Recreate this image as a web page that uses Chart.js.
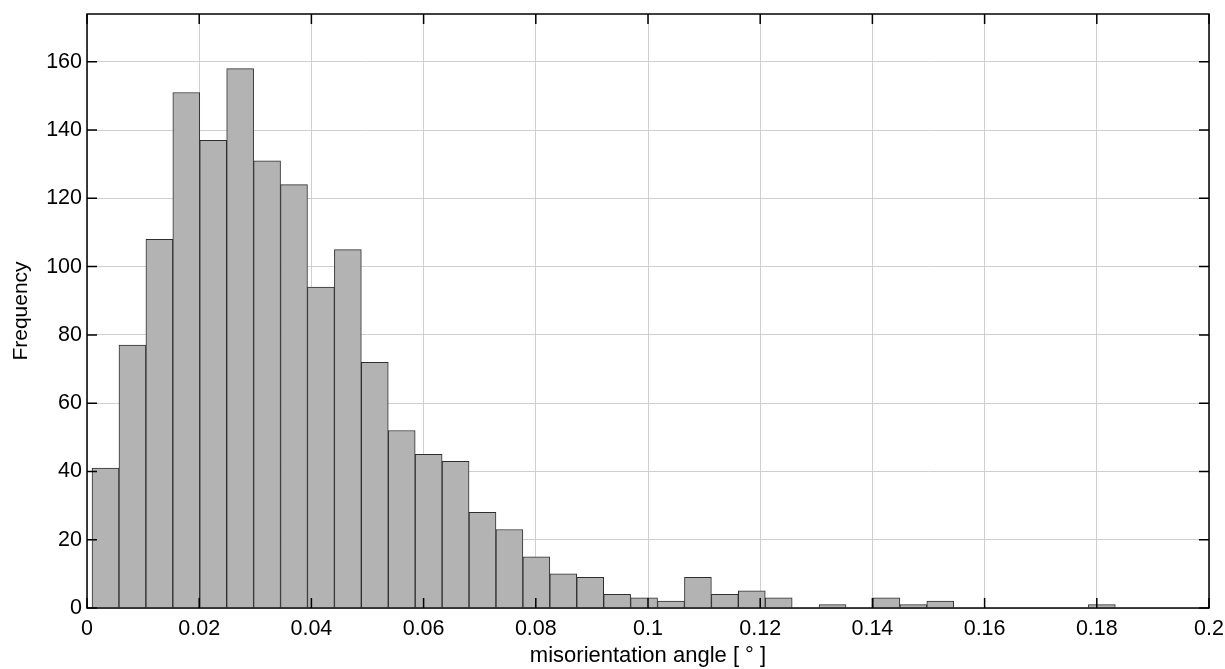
<!DOCTYPE html>
<html>
<head>
<meta charset="utf-8">
<script src="https://cdn.jsdelivr.net/npm/chart.js@4"></script>
<style>
  html, body { margin: 0; padding: 0; background: #fff; }
  #wrap { width: 1225px; height: 669px; }
</style>
</head>
<body>
<div id="wrap"><canvas id="chart1"></canvas></div>
<script>
// bin centres (misorientation angle, degrees)
const binCenters = [0.0033, 0.0081, 0.0129, 0.0177, 0.0225, 0.0273, 0.0321, 0.0369, 0.0417, 0.0465,
  0.0513, 0.0561, 0.0609, 0.0657, 0.0705, 0.0753, 0.0801, 0.0849, 0.0897, 0.0945,
  0.0993, 0.1041, 0.1089, 0.1137, 0.1185, 0.1233, 0.1281, 0.1329, 0.1377, 0.1425,
  0.1473, 0.1521, 0.1569, 0.1617, 0.1665, 0.1713, 0.1761, 0.1809];
// counts per bin
const frequency = [41, 77, 108, 151, 137, 158, 131, 124, 94, 105,
  72, 52, 45, 43, 28, 23, 15, 10, 9, 4,
  3, 2, 9, 4, 5, 3, 0, 1, 0, 3,
  1, 2, 0, 0, 0, 0, 0, 1];
const xTicks = [0, 0.02, 0.04, 0.06, 0.08, 0.1, 0.12, 0.14, 0.16, 0.18, 0.2];
const yTicks = [0, 20, 40, 60, 80, 100, 120, 140, 160];

const points = binCenters.map((x, i) => ({x: x, y: frequency[i]}));

// MATLAB style box with inward ticks
const boxPlugin = {
  id: 'box',
  afterDraw(chart) {
    const ctx = chart.ctx;
    const a = chart.chartArea;
    const xs = chart.scales.x, ys = chart.scales.y;
    const len = 10;
    ctx.save();
    ctx.strokeStyle = '#000';
    ctx.lineWidth = 1.5;
    ctx.strokeRect(a.left, a.top, a.right - a.left, a.bottom - a.top);
    ctx.beginPath();
    xTicks.forEach(v => {
      const px = xs.getPixelForValue(v);
      ctx.moveTo(px, a.bottom); ctx.lineTo(px, a.bottom - len);
      ctx.moveTo(px, a.top); ctx.lineTo(px, a.top + len);
    });
    yTicks.forEach(v => {
      const py = ys.getPixelForValue(v);
      ctx.moveTo(a.left, py); ctx.lineTo(a.left + len, py);
      ctx.moveTo(a.right, py); ctx.lineTo(a.right - len, py);
    });
    ctx.stroke();
    ctx.restore();
  }
};

Chart.defaults.font.family = '"Liberation Sans", Arial, sans-serif';
Chart.defaults.font.size = 21.5;
Chart.defaults.color = '#000';

var ctx1 = document.getElementById('chart1').getContext('2d');
var myChart = new Chart(ctx1, {
  type: 'bar',
  data: {
    datasets: [{
      label: 'Frequency',
      data: points,
      backgroundColor: '#b3b3b3',
      borderColor: '#2e2e2e',
      borderWidth: 1,
      barPercentage: 1,
      categoryPercentage: 1
    }]
  },
  options: {
    responsive: true,
    maintainAspectRatio: false,
    animation: false,
    layout: { padding: { top: 14, right: 16, left: 0, bottom: 0 } },
    plugins: { legend: { display: false }, tooltip: { enabled: false } },
    scales: {
      x: {
        type: 'linear',
        min: 0,
        max: 0.2,
        offset: false,
        grid: { offset: false, color: '#cfcfcf', drawTicks: false },
        border: { display: false },
        afterBuildTicks: s => { s.ticks = xTicks.map(v => ({value: v})); },
        afterFit: s => { s.height = 61; s.paddingLeft = 0; s.paddingRight = 0; },
        ticks: {
          padding: 8,
          maxRotation: 0,
          callback: v => Number(v.toFixed(2)).toString()
        },
        title: {
          display: true,
          text: 'misorientation angle [ \u00b0 ]',
          font: { size: 22 },
          padding: { top: 0, bottom: 0 }
        }
      },
      y: {
        min: 0,
        max: 174,
        grid: { color: '#cfcfcf', drawTicks: false },
        border: { display: false },
        afterBuildTicks: s => { s.ticks = yTicks.map(v => ({value: v})); },
        afterFit: s => { s.width = 87; s.paddingTop = 0; s.paddingBottom = 0; },
        ticks: { padding: 5 },
        title: {
          display: true,
          text: 'Frequency',
          font: { size: 21 },
          padding: { top: 9, bottom: 0 }
        }
      }
    }
  },
  plugins: [boxPlugin]
});
</script>
</body>
</html>
